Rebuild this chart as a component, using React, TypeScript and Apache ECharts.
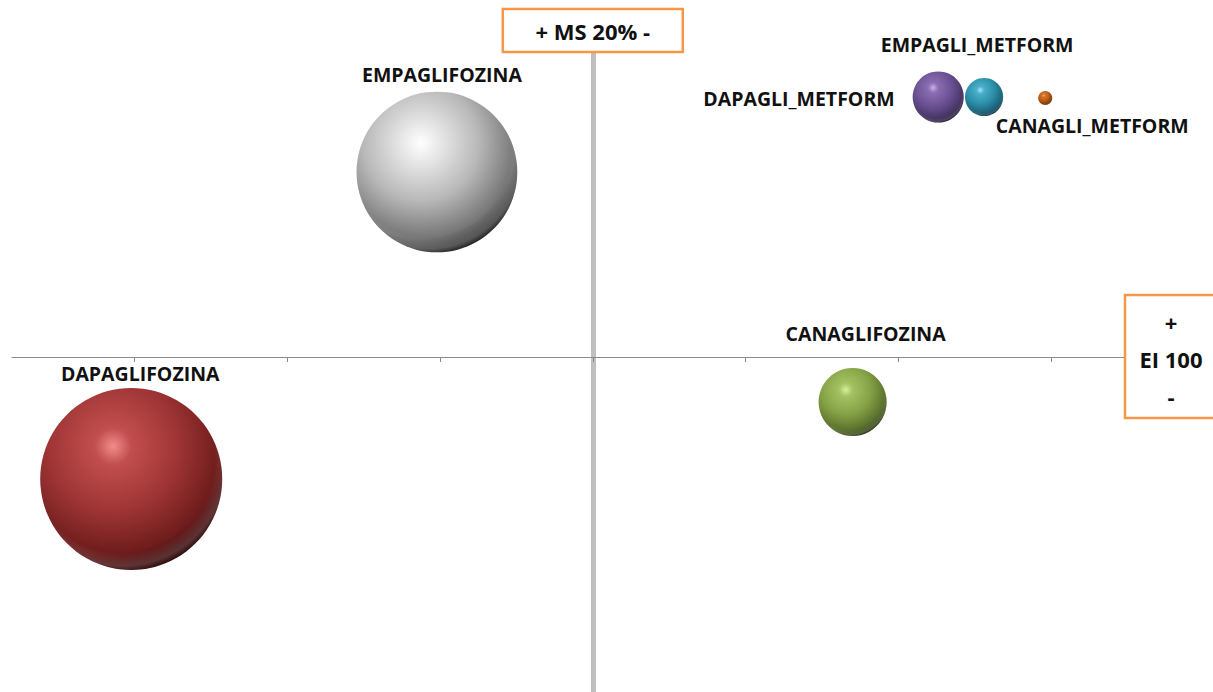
import React, { useEffect, useRef } from "react";
import * as echarts from "echarts";

// Products, market share (%), evolution index and sales volume (bubble size)
const products = [
  "EMPAGLIFOZINA",
  "DAPAGLIFOZINA",
  "CANAGLIFOZINA",
  "DAPAGLI_METFORM",
  "EMPAGLI_METFORM",
  "CANAGLI_METFORM",
];
const marketShare = [14.9, 4.9, 28.5, 31.3, 32.8, 34.8];
const evolutionIndex = [118.5, 87.8, 95.5, 126.0, 126.0, 125.9];
const sales = [78, 100, 14, 7.9, 4.4, 0.6];

// Quadrant crossing values
const msCross = 20;
const eiCross = 100;
const xTickValues = [5, 10, 15, 20, 25, 30, 35];

// Axis ranges
const xMin = 1;
const xMax = 39;
const yMin = 66.5;
const yMax = 130.5;

// Sphere shading per product: [highlight, light, base, shade, rim]
const sphereColors: string[][] = [
  ["#ffffff", "#ebebeb", "#b8b8b8", "#767676", "#101010"],
  ["#f28c8c", "#c24e4e", "#9e3434", "#6e1c1c", "#1c0202"],
  ["#d6f09a", "#a4c262", "#86a246", "#5b722d", "#20290a"],
  ["#c8b2e6", "#8a6db2", "#6b5193", "#483666", "#1a122a"],
  ["#a8e4f2", "#4aafca", "#2c8fa9", "#1c647a", "#06252d"],
  ["#f5b070", "#da782a", "#b95e18", "#86400b", "#421c02"],
];

// Label placement per product
const labelPlacement: Record<string, any> = {
  EMPAGLIFOZINA: { position: "top", distance: 7, offset: [5, 0] },
  DAPAGLIFOZINA: { position: "top", distance: 5, offset: [9, 0] },
  CANAGLIFOZINA: { position: "top", distance: 8, offset: [13, -16] },
  DAPAGLI_METFORM: { position: "left", distance: 18, offset: [0, 1] },
  EMPAGLI_METFORM: { position: "top", distance: 8, offset: [-7, -15] },
  CANAGLI_METFORM: { position: "bottom", distance: 10, offset: [47, 0] },
};

const W = 1213;
const H = 692;
const gridLeft = 12;
const gridWidth = 1161.6;
const gridTop = 52;
const gridHeight = 640;
const maxBubble = 182;
const labelFont = "'Open Sans', 'DejaVu Sans', sans-serif";
const orange = "#f79646";
const ink = "#111111";

export default function App() {
  const ref = useRef<HTMLDivElement>(null);

  useEffect(() => {
    if (!ref.current) return;
    const chart = echarts.init(ref.current, undefined, { renderer: "svg" });

    const crossX = gridLeft + ((msCross - xMin) / (xMax - xMin)) * gridWidth;
    const crossY = gridTop + ((yMax - eiCross) / (yMax - yMin)) * gridHeight;
    const maxSales = Math.max(...sales);

    const data = products.map((name, i) => {
      const c = sphereColors[i];
      const lp = labelPlacement[name];
      return {
        name,
        value: [marketShare[i], evolutionIndex[i], sales[i]],
        itemStyle: {
          opacity: 1,
          color: new echarts.graphic.RadialGradient(0.4, 0.32, 0.72, [
            { offset: 0, color: c[0] },
            { offset: 0.14, color: c[1] },
            { offset: 0.5, color: c[2] },
            { offset: 0.82, color: c[3] },
            { offset: 1, color: c[4] },
          ]),
        },
        label: {
          show: true,
          position: lp.position,
          distance: lp.distance,
          offset: lp.offset,
        },
      };
    });

    // Soft reflected light along the lower rim of each sphere
    const rimData = products.map((name, i) => ({
      name,
      value: [marketShare[i], evolutionIndex[i], sales[i]],
      itemStyle: {
        opacity: 1,
        color: new echarts.graphic.RadialGradient(0.45, 0.4, 0.62, [
          { offset: 0, color: "rgba(255,255,255,0)" },
          { offset: 0.82, color: "rgba(255,255,255,0)" },
          { offset: 0.93, color: "rgba(255,255,255,0.16)" },
          { offset: 1, color: "rgba(255,255,255,0)" },
        ]),
      },
    }));

    const symbolSize = (v: number[]) => maxBubble * Math.sqrt(v[2] / maxSales);

    const boxText = (text: string, x: number, y: number) => ({
      type: "text",
      x,
      y,
      z: 101,
      style: {
        text,
        fill: ink,
        font: `bold 22px ${labelFont}`,
        align: "center",
        verticalAlign: "middle",
        textAlign: "center",
        textVerticalAlign: "middle",
      },
    });

    chart.setOption({
      animation: false,
      backgroundColor: "#ffffff",
      grid: { left: gridLeft, width: gridWidth, top: gridTop, height: gridHeight },
      xAxis: {
        type: "value",
        min: xMin,
        max: xMax,
        position: "bottom",
        offset: -(gridTop + gridHeight - crossY),
        axisLine: { show: true, onZero: false, lineStyle: { color: "#8a8a8a", width: 1 } },
        axisTick: { show: true, length: 5, lineStyle: { color: "#8a8a8a" }, customValues: xTickValues },
        axisLabel: { show: false },
        splitLine: { show: false },
      },
      yAxis: {
        type: "value",
        min: yMin,
        max: yMax,
        position: "left",
        offset: -(crossX - gridLeft),
        axisLine: { show: true, onZero: false, lineStyle: { color: "#c0c0c0", width: 5 } },
        axisTick: { show: false },
        axisLabel: { show: false },
        splitLine: { show: false },
      },
      series: [
        {
          type: "scatter",
          data,
          symbol: "circle",
          symbolSize,
          itemStyle: { opacity: 1 },
          label: {
            color: ink,
            fontFamily: labelFont,
            fontWeight: "bold",
            fontSize: 19.5,
            formatter: "{b}",
          },
          emphasis: { disabled: true },
          z: 3,
        },
        {
          type: "scatter",
          data: rimData,
          symbol: "circle",
          symbolSize,
          silent: true,
          label: { show: false },
          emphasis: { disabled: true },
          z: 4,
        },
      ],
      graphic: [
        {
          type: "rect",
          z: 100,
          shape: { x: crossX - 90, y: 9, width: 180, height: 43 },
          style: { fill: "#ffffff", stroke: orange, lineWidth: 2.5 },
        },
        boxText("+ MS 20% -", crossX, 31),
        {
          type: "rect",
          z: 100,
          shape: { x: 1125, y: crossY - 62, width: 110, height: 123 },
          style: { fill: "#ffffff", stroke: orange, lineWidth: 2.5 },
        },
        ...["+", "EI 100", "-"].map((t, k) => boxText(t, 1171, crossY - 35 + k * 37)),
      ],
    });

    return () => chart.dispose();
  }, []);

  return (
    <div
      ref={ref}
      style={{ position: "absolute", left: 0, top: 0, width: W, height: H }}
    />
  );
}
